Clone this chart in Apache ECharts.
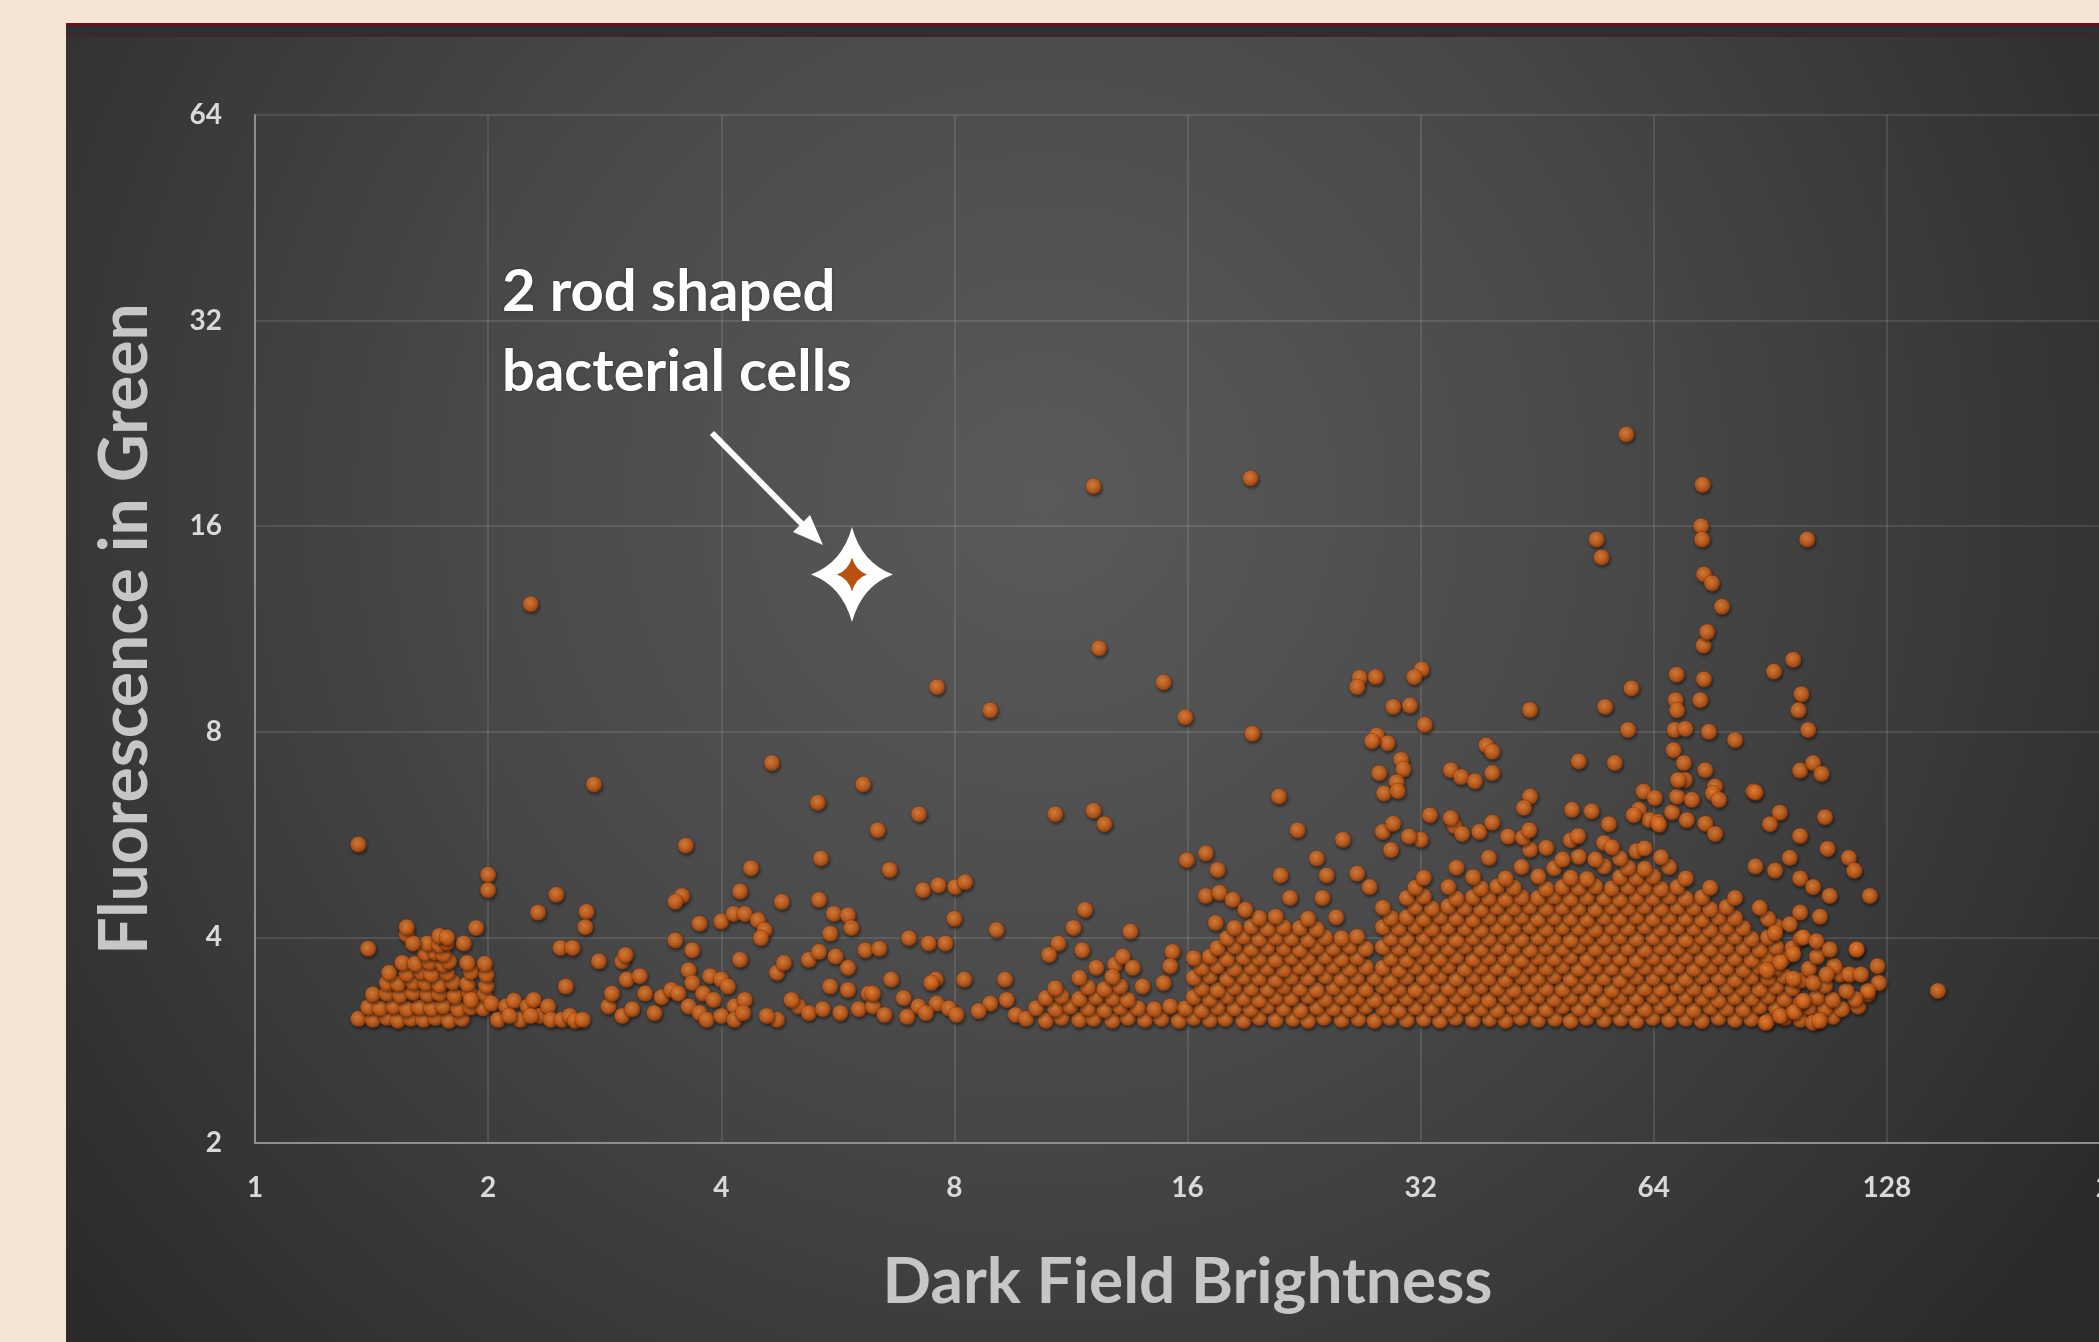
<!DOCTYPE html>
<html>
<head>
<meta charset="utf-8">
<script src="https://cdn.jsdelivr.net/npm/echarts@6/dist/echarts.min.js"></script>
<style>
html,body{margin:0;padding:0;background:#f3e4d6}
#chart{width:2099px;height:1342px}
</style>
</head>
<body>
<div id="chart"></div>
<script>
// cells: [dark field brightness, green fluorescence]
const leftPts = [
  [1.36,5.47],[1.4,3.85],
  [1.36,3.04],[1.42,3.03],[1.48,3.05],[1.53,3.02],[1.59,3.04],[1.65,3.03],[1.71,3.05],[1.78,3.02],[1.85,3.04],
  [1.4,3.16],[1.45,3.15],[1.51,3.17],[1.57,3.14],[1.63,3.16],[1.69,3.15],[1.75,3.17],[1.83,3.14],[1.9,3.16],[1.97,3.15],
  [1.42,3.3],[1.48,3.31],[1.54,3.29],[1.6,3.32],[1.67,3.3],[1.73,3.31],[1.81,3.28],[1.89,3.32],[1.98,3.3],
  [1.48,3.43],[1.53,3.42],[1.6,3.44],[1.66,3.43],[1.73,3.41],[1.8,3.44],[1.88,3.42],[1.99,3.4],
  [1.49,3.55],[1.57,3.54],[1.64,3.56],[1.69,3.53],[1.77,3.55],[1.9,3.56],[1.99,3.53],
  [1.55,3.67],[1.61,3.66],[1.68,3.68],[1.75,3.65],[1.78,3.69],[1.88,3.67],[1.98,3.66],
  [1.66,3.79],[1.71,3.8],[1.75,3.78],[1.67,3.92],[1.73,3.9],[1.77,3.93],[1.86,3.92],
  [1.57,4.04],[1.6,3.92],[1.73,4.02],[1.77,4.0],[1.57,4.14],[1.93,4.13],
  [2.0,4.94],[2.0,4.69],[1.9,3.24],
  [2.02,3.2],[2.06,3.03],[2.11,3.17],[2.16,3.23],[2.2,3.03],[2.25,3.17],[2.29,3.24],[2.33,3.07],[2.39,3.17],
  [2.41,3.03],[2.49,3.03],[2.55,3.07],[2.59,3.02],[2.65,3.03],[2.27,3.07],[2.13,3.07],
  [2.32,4.35],[2.45,4.62],[2.68,4.36],[2.67,4.14],[2.48,3.86],[2.57,3.86],[2.52,3.39],[2.78,3.69],[2.98,3.69],[3.01,3.77],
  [2.86,3.17],[2.89,3.31],[2.98,3.07],[3.02,3.47],[3.07,3.14],[3.14,3.51],[3.19,3.31],[3.28,3.1],[3.35,3.27],[3.45,3.35],[3.52,3.31],
  [2.27,12.3],[2.74,6.7]
]
const midPts = [
  [3.6,5.45],[3.56,4.6],[3.49,4.51],[3.75,4.19],[3.49,3.96],[3.67,3.83],
  [3.63,3.58],[3.67,3.43],[3.63,3.17],[3.79,3.31],[3.87,3.51],[3.75,3.1],[3.83,3.03],[4.0,3.47],[4.08,3.39],[4.16,3.17],
  [4.29,3.24],[4.0,3.07],[4.16,3.03],[4.27,3.1],[3.91,3.24],
  [4.0,4.22],[4.15,4.33],[4.29,4.33],[4.46,4.24],[4.55,4.1],[4.5,3.99],
  [4.23,4.67],[4.37,5.05],[4.23,3.71],[4.79,4.51],[4.72,3.55],[4.82,3.67],
  [5.35,4.54],[5.38,5.22],[5.19,3.71],[5.35,3.81],[5.62,3.75],[5.83,3.61],
  [5.53,4.05],[5.59,4.33],[5.83,4.31],[5.89,4.13],[6.14,3.83],[5.53,3.39],[5.83,3.35],[6.2,3.31],
  [5.03,3.17],[5.19,3.1],[5.41,3.14],[5.7,3.1],[6.02,3.14],[4.72,3.03],[4.58,3.07],[4.93,3.24],
  [4.65,7.2],[5.33,6.3],[6.1,6.7],[6.37,5.74],[6.6,5.02],[7.2,6.06],
  [7.29,4.69],[7.63,4.77],[8.02,4.74],[8.26,4.82],[8.0,4.26],[9.07,4.1],[6.99,3.99],[7.41,3.92],[7.79,3.92],[6.4,3.85],
  [7.57,3.47],[6.63,3.47],[6.28,3.17],[6.28,3.31],[6.88,3.26],[7.19,3.17],[7.47,3.43],[7.59,3.2],[7.87,3.15],
  [8.24,3.47],[8.9,3.2],[9.3,3.47],[9.35,3.24],
  [6.5,3.08],[6.95,3.06],[7.35,3.1],[8.05,3.08],[8.6,3.12],[9.6,3.08],
  [7.6,9.3],[8.9,8.6],
  [10.8,6.06],[12.1,6.13],[12.5,5.86],[11.8,4.39],[11.4,4.13],[13.5,4.08],[10.9,3.92],[10.6,3.77],[11.7,3.83],[15.3,3.81],
  [12.2,3.61],[12.9,3.65],[13.2,3.75],[13.6,3.61],[14.0,3.39],[14.9,3.43],[15.2,3.63],
  [12.3,10.6],[14.9,9.45],[15.9,8.4],[12.1,18.3]
]
const bandLow = [
  [9.9,3.04],[10.5,3.02],[11.0,3.05],[11.6,3.03],[12.1,3.04],[12.8,3.02],[13.4,3.05],[14.1,3.03],[14.8,3.04],[15.6,3.02],
  [16.3,3.05],[17.1,3.03],[17.9,3.04],[18.9,3.02],[19.8,3.05],[20.8,3.03],[21.9,3.04],[22.9,3.02],[24.0,3.05],[25.3,3.03],
  [26.6,3.04],[27.9,3.02],[29.2,3.05],[30.7,3.03],[32.3,3.04],[33.9,3.02],[35.5,3.05],[37.4,3.03],[39.3,3.04],[41.2,3.02],
  [43.1,3.05],[45.4,3.03],[47.7,3.04],[50.0,3.02],[52.4,3.05],[55.2,3.03],[58.0,3.04],[60.8,3.02],[63.8,3.05],[67.0,3.03],
  [70.4,3.04],[73.8,3.02],[77.6,3.05],[81.5,3.03],[85.5,3.04],[89.8,3.02],[94.5,3.05],[99.0,3.03],[104,3.04],[109,3.06],
  [10.2,3.15],[10.8,3.14],[11.3,3.17],[11.9,3.15],[12.5,3.13],[13.1,3.16],[13.8,3.15],[14.5,3.14],[15.2,3.17],[15.9,3.15],
  [16.7,3.13],[17.5,3.16],[18.4,3.15],[19.3,3.14],[20.3,3.17],[21.3,3.15],[22.4,3.13],[23.5,3.16],[24.7,3.15],[25.9,3.14],
  [27.2,3.17],[28.6,3.15],[30.0,3.13],[31.5,3.16],[33.1,3.15],[34.8,3.14],[36.5,3.17],[38.3,3.15],[40.2,3.13],[42.2,3.16],
  [44.3,3.15],[46.5,3.14],[48.8,3.17],[51.2,3.15],[53.8,3.13],[56.5,3.16],[59.3,3.15],[62.3,3.14],[65.4,3.17],[68.7,3.15],
  [72.1,3.13],[75.7,3.16],[79.5,3.15],[83.5,3.14],[87.7,3.17],[92.1,3.15],[96.7,3.13],[101.5,3.16],[106.5,3.15],[112,3.14],[117.5,3.17],
  [10.5,3.26],[11.0,3.28],[11.6,3.25],[12.2,3.27],[12.8,3.26],[13.4,3.24],[16.3,3.27],[17.1,3.25],[18.0,3.28],[18.9,3.26],
  [19.8,3.24],[20.8,3.27],[21.8,3.26],[22.9,3.28],[24.1,3.25],[25.3,3.27],[26.5,3.26],[27.9,3.24],[29.3,3.27],[30.7,3.26],
  [32.3,3.28],[33.9,3.25],[35.6,3.27],[37.4,3.26],[39.2,3.24],[41.2,3.27],[43.2,3.26],[45.4,3.28],[47.6,3.25],[50.0,3.27],
  [52.5,3.26],[55.2,3.24],[57.9,3.27],[60.8,3.26],[63.9,3.28],[67.0,3.25],[70.4,3.27],[73.9,3.26],[77.6,3.24],[81.5,3.27],
  [85.6,3.26],[89.9,3.28],[94.4,3.25],[99.1,3.22],[104,3.27],[109,3.24],[121,3.3]
]
const bandMid = [
  [10.8,3.37],[11.9,3.38],[12.5,3.36],[13.1,3.39],[16.7,3.37],[17.5,3.35],[18.4,3.38],[19.35,3.37],[20.3,3.36],[21.3,3.39],
  [22.35,3.37],[23.5,3.35],[24.7,3.38],[25.9,3.37],[27.2,3.36],[28.6,3.39],[30.0,3.37],[31.5,3.35],[33.1,3.38],[34.75,3.37],
  [36.5,3.36],[38.3,3.39],[40.2,3.37],[42.2,3.35],[44.3,3.38],[46.5,3.37],[48.8,3.36],[51.2,3.39],[53.8,3.37],[56.5,3.35],
  [59.3,3.38],[62.3,3.37],[65.4,3.36],[68.7,3.39],[72.1,3.37],[75.7,3.35],[79.5,3.38],[83.5,3.37],[87.7,3.36],[92.1,3.39],[96.7,3.37],[106.5,3.4],
  [11.6,3.49],[12.8,3.5],[16.3,3.49],[17.1,3.51],[18.0,3.48],[18.9,3.5],[19.8,3.49],[20.8,3.47],[21.8,3.5],[22.9,3.49],
  [24.1,3.51],[25.3,3.48],[26.5,3.5],[27.9,3.49],[29.3,3.47],[30.7,3.5],[32.3,3.49],[33.9,3.51],[35.6,3.48],[37.4,3.5],
  [39.2,3.49],[41.2,3.47],[43.2,3.5],[45.4,3.49],[47.6,3.51],[50.0,3.48],[52.5,3.5],[55.2,3.49],[57.9,3.47],[60.8,3.5],
  [63.9,3.49],[67.0,3.51],[70.4,3.48],[73.9,3.5],[77.6,3.49],[81.5,3.47],[85.6,3.5],[89.9,3.49],[94.4,3.51],[99.1,3.46],
  [16.7,3.61],[17.5,3.63],[18.4,3.6],[19.35,3.62],[20.3,3.61],[21.3,3.59],[22.35,3.62],[23.5,3.61],[24.7,3.63],[25.9,3.6],
  [27.2,3.62],[28.6,3.61],[30.0,3.59],[31.5,3.62],[33.1,3.61],[34.75,3.63],[36.5,3.6],[38.3,3.62],[40.2,3.61],[42.2,3.59],
  [44.3,3.62],[46.5,3.61],[48.8,3.63],[51.2,3.6],[53.8,3.62],[56.5,3.61],[59.3,3.59],[62.3,3.62],[65.4,3.61],[68.7,3.63],
  [72.1,3.6],[75.7,3.62],[79.5,3.61],[83.5,3.59],[87.7,3.62],[92.1,3.61],[101.5,3.6],
  [16.3,3.73],[17.1,3.75],[18.0,3.72],[18.9,3.74],[19.8,3.73],[20.8,3.71],[21.8,3.74],[22.9,3.73],[24.1,3.75],[25.3,3.72],
  [26.5,3.74],[29.3,3.73],[30.7,3.71],[32.3,3.74],[33.9,3.73],[35.6,3.75],[37.4,3.72],[39.2,3.74],[41.2,3.73],[43.2,3.71],
  [45.4,3.74],[47.6,3.73],[50.0,3.75],[52.5,3.72],[55.2,3.74],[57.9,3.73],[60.8,3.71],[63.9,3.74],[67.0,3.73],[70.4,3.75],
  [73.9,3.72],[77.6,3.74],[81.5,3.73],[85.6,3.71],[89.9,3.74],[94.4,3.73],[104,3.75],
  [17.5,3.86],[18.4,3.88],[19.35,3.85],[20.3,3.87],[21.3,3.86],[22.35,3.84],[23.5,3.87],[24.7,3.86],[25.9,3.88],[27.2,3.85],
  [28.6,3.87],[30.0,3.86],[31.5,3.84],[33.1,3.87],[34.75,3.86],[36.5,3.88],[38.3,3.85],[40.2,3.87],[42.2,3.86],[44.3,3.84],
  [46.5,3.87],[48.8,3.86],[51.2,3.88],[53.8,3.85],[56.5,3.87],[59.3,3.86],[62.3,3.84],[65.4,3.87],[68.7,3.86],[72.1,3.88],
  [75.7,3.85],[79.5,3.87],[83.5,3.86],[87.7,3.84],[92.1,3.87],[96.7,3.86],[117,3.84]
]
const bandHigh = [
  [18.0,3.99],[18.9,4.01],[19.8,3.98],[20.8,4.0],[21.8,3.99],[22.9,3.97],[24.1,4.0],[25.3,3.99],[26.5,4.01],[29.3,3.99],
  [30.7,3.98],[32.3,4.0],[33.9,3.99],[35.6,3.97],[37.4,4.0],[39.2,3.99],[41.2,4.01],[43.2,3.98],[45.4,4.0],[47.6,3.99],
  [50.0,3.97],[52.5,4.0],[55.2,3.99],[57.9,4.01],[60.8,3.98],[63.9,4.0],[67.0,3.99],[70.4,3.97],[73.9,4.0],[77.6,3.99],
  [81.5,4.01],[85.6,3.98],[89.9,4.0],[99.1,3.99],
  [18.4,4.13],[19.35,4.15],[20.3,4.12],[21.3,4.14],[22.35,4.13],[23.5,4.11],[28.6,4.14],[30.0,4.13],[31.5,4.15],[33.1,4.12],
  [34.75,4.14],[36.5,4.13],[38.3,4.11],[40.2,4.14],[42.2,4.13],[44.3,4.15],[46.5,4.12],[48.8,4.14],[51.2,4.13],[53.8,4.11],
  [56.5,4.14],[59.3,4.13],[62.3,4.15],[65.4,4.12],[68.7,4.14],[72.1,4.13],[75.7,4.11],[79.5,4.14],[83.5,4.13],[92.1,4.15],
  [19.8,4.27],[20.8,4.29],[22.9,4.26],[29.3,4.27],[30.7,4.28],[32.3,4.26],[33.9,4.29],[35.6,4.27],[37.4,4.25],[39.2,4.28],
  [41.2,4.27],[43.2,4.29],[45.4,4.26],[47.6,4.28],[50.0,4.27],[52.5,4.25],[55.2,4.28],[57.9,4.27],[60.8,4.29],[63.9,4.26],
  [67.0,4.28],[70.4,4.27],[73.9,4.25],[77.6,4.28],[81.5,4.27],[89.9,4.26],
  [28.6,4.42],[31.5,4.43],[33.1,4.41],[34.75,4.44],[36.5,4.42],[38.3,4.4],[40.2,4.43],[42.2,4.42],[44.3,4.44],[46.5,4.41],
  [48.8,4.43],[51.2,4.42],[53.8,4.4],[56.5,4.43],[59.3,4.42],[62.3,4.44],[65.4,4.41],[68.7,4.43],[72.1,4.42],[75.7,4.4],[79.5,4.43],[87.7,4.42],
  [30.7,4.57],[32.3,4.59],[35.6,4.56],[37.4,4.58],[39.2,4.57],[41.2,4.55],[43.2,4.58],[45.4,4.57],[47.6,4.59],[50.0,4.56],
  [52.5,4.58],[55.2,4.57],[57.9,4.55],[60.8,4.58],[63.9,4.57],[67.0,4.59],[70.4,4.56],[73.9,4.58],[81.5,4.57],
  [31.5,4.73],[34.75,4.74],[38.3,4.72],[40.2,4.75],[42.2,4.73],[46.5,4.71],[48.8,4.74],[51.2,4.73],[53.8,4.75],[56.5,4.72],
  [59.3,4.74],[62.3,4.73],[65.4,4.71],[68.7,4.74],[75.7,4.73],
  [32.3,4.89],[37.4,4.9],[41.2,4.88],[45.4,4.91],[50.0,4.89],[52.5,4.87],[57.9,4.9],[60.8,4.89],[63.9,4.91],[70.4,4.88],
  [35.6,5.06],[43.2,5.07],[47.6,5.05],[55.2,5.08],[59.3,5.06],[62.3,5.04],[67.0,5.07],
  [39.2,5.23],[51.2,5.25],[57.9,5.22],[65.4,5.24],[53.8,5.2],[48.8,5.2],[44.3,5.38],[60.8,5.35],[50.0,5.55],[55.2,5.5],
  [46.5,5.41],[56.5,5.42],[62.3,5.4]
]
const upperPts = [
  [15.97,5.19],[16.9,5.31],[17.5,5.02],[16.9,4.6],[17.6,4.65],[18.3,4.54],[19.0,4.39],[17.4,4.2],[21.0,6.43],[22.2,5.74],
  [21.1,4.93],[21.7,4.57],[23.5,5.22],[24.2,4.93],[25.4,5.56],[23.9,4.57],[24.9,4.28],[26.5,4.96],[27.5,4.74],
  [19.4,7.95],[19.3,18.8],[26.7,9.6],[26.5,9.3],
  [28.0,9.62],[32.1,9.87],[31.4,9.62],[29.5,8.7],[31.0,8.74],[32.4,8.19],[28.1,7.9],[29.0,7.7],[27.7,7.75],[30.2,7.28],
  [30.4,7.05],[28.3,6.96],[29.8,6.75],[28.7,6.5],[29.9,6.55],
  [35.0,7.03],[36.1,6.87],[37.6,6.77],[39.6,6.96],[38.9,7.64],[39.6,7.48],[44.3,8.61],[55.4,8.7],[59.9,9.26],[59.3,8.05],
  [51.2,7.24],[57.0,7.2],[44.3,6.43],[43.5,6.19],[50.2,6.15],[53.2,6.12],[51.1,5.63],
  [32.9,6.04],[35.4,5.82],[32.0,5.56],[29.3,5.37],[28.6,5.71],[29.5,5.87],[30.9,5.62],[36.2,5.67],[38.1,5.71],[39.6,5.89],
  [41.5,5.62],[43.4,5.6],[44.2,5.74],[35.0,5.98],[56.0,5.86],
  [54.0,15.3],[54.8,14.4],[59,21.8]
]
const columnPts = [
  [62.1,6.54],[61.2,6.15],[63.2,5.94],[64.8,5.9],[64.2,6.4],[67.6,6.1],[60.3,6.04],[65.0,5.85],
  [68.5,9.7],[68.3,8.9],[68.6,8.6],[68.1,8.05],[70.3,8.08],[74.3,9.55],[73.5,8.9],[75.4,8.0],[74.2,10.7],[75.0,11.2],
  [78.4,12.2],[74.3,13.6],[76.1,13.2],[73.7,16],[73.9,15.3],[74,18.4],[81.5,7.78],
  [67.9,7.52],[70.0,7.2],[68.6,6.43],[71.7,6.36],[70.2,6.8],[68.8,6.8],[74.6,7.03],[76.8,6.65],[76.3,6.5],[77.7,6.36],
  [86.1,6.54],[70.6,5.94],[74.6,5.87],[76.8,5.67]
]
const rightPts = [
  [91.5,9.8],[96.9,10.2],[99.3,9.08],[98.4,8.6],[101.3,8.05],[98.9,7.02],[102.8,7.2],[105.4,6.94],[86.6,6.52],[93.1,6.09],
  [90.4,5.86],[106.5,6.0],[98.9,5.63],[107.3,5.39],[114.3,5.23],[116.2,5.01],[121.7,4.6],[101,15.3],
  [117,3.84],[124.5,3.63],[125,3.43],[121,3.34],[116.5,3.25],[113.5,3.34],[111.5,3.53],[109.5,3.63],[114.5,3.53],[118.5,3.53],
  [149,3.34],[89.3,3.0],[93.2,3.07],[97.2,3.11],[102.8,3.0],[104.8,3.02],[99.9,3.23],
  [86.6,5.08],[91.8,5.01],[95.9,5.23],[98.9,4.88],[102.8,4.74],[108,4.6],[104.9,4.29],[98.9,4.35],[95.9,4.18],[91.8,4.06],
  [99.8,4.0],[103.8,3.95],[108,3.84],[96.9,3.78],[93.2,3.68],[89.6,3.58],[96.9,3.48],[102.8,3.43],[107,3.53]
]
// the highlighted pair of rod shaped cells
const rodCells = [[5.9,13.6]]

const cells = [].concat(leftPts, midPts, bandLow, bandMid, bandHigh, upperPts, columnPts, rightPts)

const chart = echarts.init(document.getElementById('chart'))
const starPath = 'path://M0,-1 Q0.24,-0.24 1,0 Q0.24,0.24 0,1 Q-0.24,0.24 -1,0 Q-0.24,-0.24 0,-1 Z'
const dotFill = new echarts.graphic.RadialGradient(0.42, 0.38, 0.62, [
  {offset:0, color:'#f7903f'}, {offset:0.6, color:'#dc661c'}, {offset:1, color:'#9a440d'}
])
const panelFill = new echarts.graphic.RadialGradient(0.48, 0.36, 0.95, [
  {offset:0, color:'#5a5a5a'}, {offset:0.45, color:'#494949'}, {offset:1, color:'#2b2b2b'}
])
const tickFont = {color:'#d9d9d9', fontSize:28, fontWeight:'bold', fontFamily:'Lato'}
const xNameFont = {color:'#c6c6c6', fontSize:64, fontWeight:'bold', fontFamily:'Lato'}
const yNameFont = {color:'#c6c6c6', fontSize:66, fontWeight:'bold', fontFamily:'Lato'}

chart.setOption({
  backgroundColor:'#f3e4d6',
  animation:false,
  graphic:[
    {type:'rect', z:-10, silent:true, shape:{x:66, y:23, width:2033, height:1319}, style:{fill:panelFill}},
    {type:'rect', z:-9, silent:true, shape:{x:66, y:23, width:2033, height:4}, style:{fill:'#5b1818'}},
    {type:'rect', z:-9, silent:true, shape:{x:66, y:27, width:2033, height:5}, style:{fill:'#28323a'}},
    {type:'rect', z:-9, silent:true, shape:{x:66, y:32, width:2033, height:5}, style:{fill:'#372a2e'}},
    {type:'text', z:20, x:502, y:252, style:{text:'2 rod shaped\nbacterial cells', fill:'#ffffff',
      fontSize:58, fontWeight:'bold', fontFamily:'Lato', lineHeight:80, align:'left', verticalAlign:'top',
      textShadowColor:'rgba(0,0,0,0.35)', textShadowBlur:3}},
    {type:'line', z:20, shape:{x1:712, y1:433, x2:803, y2:525}, style:{stroke:'#ffffff', lineWidth:6}},
    {type:'polygon', z:20, shape:{points:[[823,545],[793,532],[810,515]]}, style:{fill:'#ffffff'}}
  ],
  grid:{left:255, top:115, width:1865, height:1028, show:false, containLabel:false, outerBoundsMode:'none'},
  xAxis:{
    type:'log', logBase:2, min:1, max:256, splitNumber:8,
    name:'Dark Field Brightness', nameLocation:'middle', nameGap:107, nameTextStyle:xNameFont,
    axisLine:{lineStyle:{color:'#8e8e8e', width:2}},
    axisTick:{show:false},
    axisLabel:Object.assign({margin:31, showMinLabel:true, showMaxLabel:true, formatter:v=>String(Math.round(v))}, tickFont),
    splitLine:{show:true, lineStyle:{color:'rgba(255,255,255,0.14)', width:1.5}}
  },
  yAxis:{
    type:'log', logBase:2, min:2, max:64, splitNumber:5,
    name:'Fluorescence in Green', nameLocation:'middle', nameGap:96, nameTextStyle:yNameFont,
    axisLine:{show:true, lineStyle:{color:'#8e8e8e', width:2}},
    axisTick:{show:false},
    axisLabel:Object.assign({margin:33, showMinLabel:true, showMaxLabel:true, formatter:v=>String(Math.round(v))}, tickFont),
    splitLine:{show:true, lineStyle:{color:'rgba(255,255,255,0.14)', width:1.5}}
  },
  series:[
    {type:'scatter', data:cells, symbolSize:16, progressive:0, z:2,
      itemStyle:{color:dotFill, borderColor:'rgba(110,45,8,0.6)', borderWidth:0.8,
        shadowBlur:3, shadowColor:'rgba(0,0,0,0.55)', shadowOffsetX:1, shadowOffsetY:2}},
    {type:'scatter', data:rodCells, symbol:starPath, symbolSize:[82,95], z:5,
      itemStyle:{color:'#ffffff', opacity:1}},
    {type:'scatter', data:rodCells, symbol:starPath, symbolSize:[30,34], z:6,
      itemStyle:{color:'#b9500f', opacity:1}}
  ]
})
</script>
</body>
</html>
